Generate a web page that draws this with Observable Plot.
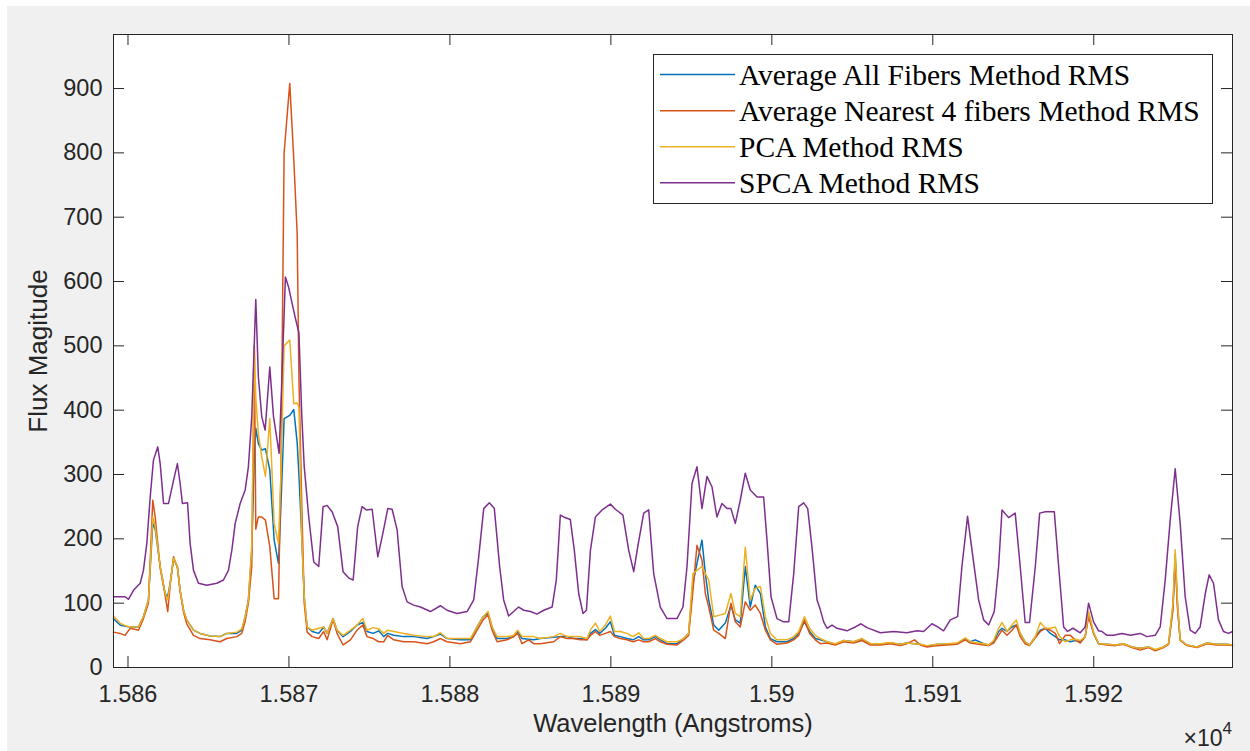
<!DOCTYPE html>
<html><head><meta charset="utf-8">
<script src="https://cdn.jsdelivr.net/npm/d3@7"></script>
<script src="https://cdn.jsdelivr.net/npm/@observablehq/plot@0.6"></script>
<style>
html,body{margin:0;padding:0;background:#fff;}
#wrap{position:relative;width:1250px;height:751px;overflow:hidden;}
#bg{position:absolute;left:7px;top:6px;right:0;bottom:0;background:#f0f0f0;}
#chart{position:absolute;left:0;top:0;}
#overlay{position:absolute;left:0;top:0;}
</style></head><body>
<div id="wrap"><div id="bg"></div><div id="chart"></div><svg id="overlay" width="1250" height="751"></svg></div>
<script>
// ---------- DATA ----------
const seriesNames = ["Average All Fibers Method RMS", "Average Nearest 4 fibers Method RMS", "PCA Method RMS", "SPCA Method RMS"];
const seriesColors = ["#0072BD", "#D95319", "#EDB120", "#7E2F8E"];
const xTicks = [15860, 15870, 15880, 15890, 15900, 15910, 15920];
const xTickLabels = ["1.586", "1.587", "1.588", "1.589", "1.59", "1.591", "1.592"];
const yTicks = [0, 100, 200, 300, 400, 500, 600, 700, 800, 900];
const xLabel = "Wavelength (Angstroms)";
const yLabel = "Flux Magitude";
const xExponent = "4";

// wavelength grid shared by the three lower methods
const wlLow = [
15859.10,15859.51,15859.82,15860.14,15860.65,15860.96,15861.27,15861.54,15861.69,15862.00,
15862.31,15862.47,15862.62,15862.83,15863.07,15863.24,15863.45,15863.65,15864.07,15864.48,
15865.10,15865.72,15866.14,15866.76,15867.07,15867.28,15867.48,15867.69,15867.85,15867.94,
15868.10,15868.31,15868.54,15868.81,15869.08,15869.35,15869.50,15869.70,15870.05,15870.30,
15870.51,15870.62,15870.80,15870.95,15871.13,15871.44,15871.85,15872.16,15872.37,15872.74,
15872.99,15873.36,15873.82,15874.23,15874.59,15874.85,15875.23,15875.58,15875.89,15876.14,
15876.51,15877.13,15877.75,15878.58,15878.99,15879.41,15879.82,15880.65,15881.27,15881.69,
15882.06,15882.37,15882.62,15882.93,15883.55,15883.96,15884.21,15884.48,15884.90,15885.21,
15885.62,15886.45,15886.86,15887.28,15887.69,15888.11,15888.52,15888.73,15889.04,15889.31,
15889.66,15889.97,15890.22,15890.59,15891.00,15891.38,15891.73,15892.04,15892.35,15892.76,
15893.07,15893.49,15894.11,15894.52,15894.83,15895.10,15895.35,15895.66,15895.87,15896.08,
15896.39,15896.70,15897.11,15897.46,15897.73,15898.04,15898.35,15898.66,15898.97,15899.29,
15899.60,15899.91,15900.32,15900.94,15901.36,15901.67,15902.02,15902.35,15902.70,15903.01,
15903.43,15903.94,15904.46,15905.08,15905.60,15906.12,15906.74,15907.36,15907.98,15908.39,
15908.87,15909.22,15909.64,15910.26,15910.88,15911.50,15912.02,15912.33,15912.64,15913.16,
15913.47,15913.78,15914.09,15914.30,15914.61,15914.92,15915.19,15915.43,15915.74,15916.01,
15916.37,15916.68,15916.99,15917.30,15917.61,15917.88,15918.23,15918.54,15918.85,15919.16,
15919.47,15919.68,15919.99,15920.30,15920.82,15921.34,15921.85,15922.37,15922.89,15923.41,
15923.82,15924.34,15924.65,15924.92,15925.06,15925.21,15925.37,15925.79,15926.41,15927.03,
15927.65,15928.27,15928.62];

const avgAll = [
76,66,64,63,63,79,105,224,215,157,
115,110,131,168,157,120,89,74,58,53,
49,48,53,53,58,79,105,182,330,372,
348,338,340,307,198,162,250,387,392,401,
350,300,200,110,63,56,53,63,53,76,
58,48,56,66,70,56,53,57,48,53,
50,48,48,45,48,52,45,43,43,63,
79,84,63,45,45,48,56,45,44,43,
45,47,48,48,45,45,43,53,59,53,
61,71,50,48,45,43,48,43,43,48,
43,37,37,45,53,131,162,198,146,105,
66,58,69,97,74,69,157,94,128,115,
63,45,40,40,45,53,71,56,45,43,
40,36,42,40,44,37,36,38,36,38,
37,36,33,36,36,37,45,40,43,37,
35,40,56,61,56,63,66,53,40,35,
48,58,61,53,48,43,43,40,42,40,
48,84,53,37,36,35,37,32,30,32,
27,32,37,94,175,94,43,35,32,38,
36,36,35];

const avgNear4 = [
55,53,50,61,58,76,100,260,234,155,
112,87,128,172,155,118,86,68,50,45,
43,40,45,48,53,72,100,157,500,215,
234,234,229,188,107,107,300,800,908,790,
675,450,250,100,55,48,45,56,43,74,
53,35,43,58,66,48,45,40,40,50,
43,40,40,37,40,45,40,37,40,58,
74,82,58,40,43,48,53,37,43,37,
37,40,48,45,45,43,43,50,56,50,
53,56,48,45,43,40,43,40,40,45,
40,36,35,43,50,120,190,167,115,94,
58,53,45,100,71,63,102,89,97,84,
58,43,36,38,43,50,74,53,43,37,
38,35,40,38,42,35,35,37,34,37,
43,35,32,34,35,36,43,38,37,35,
34,38,50,58,50,58,66,48,37,34,
46,56,61,58,53,37,50,50,43,38,
48,79,53,37,35,34,36,31,27,31,
26,31,36,90,168,90,42,34,31,37,
35,35,34];

const pca = [
80,69,65,63,63,79,105,234,219,157,
115,105,131,170,157,120,89,74,58,53,
49,48,53,55,60,79,105,190,495,420,
364,327,297,387,224,193,300,500,509,410,
411,405,200,110,63,58,61,63,53,76,
58,50,58,66,76,58,62,60,53,58,
56,53,50,48,48,54,45,45,45,63,
79,87,63,48,48,50,58,48,48,48,
45,48,53,48,48,48,45,58,69,56,
66,80,56,56,53,48,54,45,45,50,
45,40,40,45,53,146,151,157,146,136,
79,81,84,115,84,79,187,105,123,126,
79,53,43,43,48,56,79,61,50,45,
40,37,42,40,45,37,37,39,36,38,
37,36,34,36,37,38,46,40,39,37,
35,42,61,70,56,66,74,53,40,35,
48,70,61,61,63,48,40,43,44,42,
48,87,55,37,36,35,37,32,30,32,
28,32,37,100,183,100,43,35,32,38,
36,36,35];

// SPCA series has its own wavelength sampling
const wlSpca = [
15859.10,15859.82,15860.03,15860.34,15860.76,15860.96,15861.17,15861.38,15861.58,15861.85,
15862.00,15862.21,15862.52,15862.83,15863.07,15863.24,15863.38,15863.70,15863.86,15864.07,
15864.38,15864.90,15865.52,15865.93,15866.24,15866.45,15866.66,15866.97,15867.28,15867.48,
15867.69,15867.94,15868.10,15868.31,15868.52,15868.81,15869.04,15869.39,15869.55,15869.78,
15869.97,15870.38,15870.62,15870.80,15870.95,15871.23,15871.54,15871.85,15872.12,15872.37,
15872.68,15873.03,15873.36,15873.72,15873.99,15874.27,15874.54,15874.81,15875.17,15875.52,
15875.79,15876.14,15876.41,15876.72,15877.03,15877.34,15877.75,15878.17,15878.79,15879.41,
15879.82,15880.44,15881.07,15881.48,15881.79,15882.10,15882.45,15882.76,15883.09,15883.34,
15883.65,15883.96,15884.27,15884.59,15885.00,15885.41,15885.83,15886.35,15886.61,15886.86,
15887.07,15887.48,15887.73,15888.00,15888.27,15888.48,15888.73,15889.04,15889.45,15889.97,
15890.28,15890.75,15891.11,15891.42,15891.67,15892.04,15892.35,15892.66,15893.07,15893.49,
15894.11,15894.48,15894.73,15895.04,15895.35,15895.66,15895.97,15896.28,15896.59,15896.90,
15897.23,15897.46,15897.73,15898.04,15898.35,15898.66,15899.08,15899.49,15899.70,15899.95,
15900.32,15900.73,15901.05,15901.36,15901.67,15901.98,15902.23,15902.49,15902.81,15903.01,
15903.22,15903.43,15903.74,15904.05,15904.67,15905.19,15905.54,15905.91,15906.74,15907.57,
15908.39,15909.02,15909.43,15909.95,15910.30,15910.67,15911.09,15911.54,15911.81,15912.16,
15912.49,15912.85,15913.16,15913.47,15913.82,15914.09,15914.30,15914.71,15915.12,15915.43,
15915.74,15916.01,15916.37,15916.64,15916.99,15917.55,15917.82,15918.13,15918.37,15918.71,
15919.16,15919.47,15919.68,15919.99,15920.30,15920.51,15920.82,15921.23,15921.75,15922.27,
15922.89,15923.30,15923.82,15924.13,15924.44,15924.75,15925.06,15925.37,15925.68,15925.99,
15926.30,15926.61,15926.93,15927.17,15927.44,15927.75,15928.06,15928.37,15928.62];

const spca = [
110,110,106,120,131,151,193,265,322,343,
317,255,255,291,317,286,255,256,193,151,
131,128,131,136,151,182,224,255,276,312,
390,572,452,390,369,467,390,333,441,607,
592,545,520,390,312,234,164,157,250,252,
242,219,149,139,136,219,250,245,246,172,
203,247,246,214,126,102,97,94,87,96,
89,84,87,105,172,247,256,247,157,105,
80,87,94,89,87,83,89,94,136,237,
234,230,182,115,84,89,182,234,245,254,
246,237,182,149,188,240,245,146,94,76,
76,94,157,286,312,247,297,281,234,255,
247,247,224,260,302,276,265,265,198,110,
76,71,71,146,250,256,247,188,105,90,
71,61,66,61,57,63,68,62,54,56,
54,57,56,68,63,57,74,79,157,235,
172,105,74,66,87,157,245,233,240,157,
70,70,157,240,242,242,157,63,56,61,
54,63,100,71,57,56,50,50,53,50,
53,48,50,63,136,229,309,224,110,58,
53,63,115,144,131,74,56,53,56];

// ---------- BUILD ----------
const nLow = Math.min(wlLow.length, avgAll.length, avgNear4.length, pca.length);
const lowRows = d3.range(nLow).map(i => ({wl: wlLow[i], a: avgAll[i], n: avgNear4[i], p: pca[i]}));
const nS = Math.min(wlSpca.length, spca.length);
const spcaRows = d3.range(nS).map(i => ({wl: wlSpca[i], v: spca[i]}));

const W = 1250, H = 751, mL = 113, mR = 18, mT = 34, mB = 84;
const innerW = W - mL - mR, innerH = H - mT - mB;
const axisColor = "#262626";
const tickLen = 11;
const lw = 1.5;
const sans = "'Liberation Sans', Arial, sans-serif";
const labelOf = d => xTickLabels[xTicks.indexOf(d)];

const chart = Plot.plot({
  width: W, height: H,
  marginLeft: mL, marginRight: mR, marginTop: mT, marginBottom: mB,
  style: {background: "transparent", fontFamily: sans, color: axisColor, overflow: "visible"},
  x: {domain: [15859.1, 15928.62], label: null},
  y: {domain: [0, 984], label: null},
  marks: [
    Plot.frame({fill: "white", stroke: "none"}),
    Plot.line(lowRows, {x: "wl", y: "a", stroke: seriesColors[0], strokeWidth: lw}),
    Plot.line(lowRows, {x: "wl", y: "n", stroke: seriesColors[1], strokeWidth: lw}),
    Plot.line(lowRows, {x: "wl", y: "p", stroke: seriesColors[2], strokeWidth: lw}),
    Plot.line(spcaRows, {x: "wl", y: "v", stroke: seriesColors[3], strokeWidth: lw}),
    Plot.frame({stroke: axisColor, strokeWidth: 1}),
    Plot.tickY(yTicks, {y: d => d, insetRight: innerW - tickLen, stroke: axisColor}),
    Plot.tickY(yTicks, {y: d => d, insetLeft: innerW - tickLen, stroke: axisColor}),
    Plot.tickX(xTicks, {x: d => d, insetTop: innerH - tickLen, stroke: axisColor}),
    Plot.tickX(xTicks, {x: d => d, insetBottom: innerH - tickLen, stroke: axisColor}),
    Plot.axisX({ticks: xTicks, tickSize: 0, tickPadding: 18, tickFormat: labelOf, fontSize: 23.5, label: null, fill: axisColor}),
    Plot.axisY({ticks: yTicks, tickSize: 0, tickPadding: 11, fontSize: 23.5, label: null, fill: axisColor}),
    Plot.text([xLabel], {text: d => d, frameAnchor: "bottom", textAnchor: "middle", dy: 64, fontSize: 25.5, fill: axisColor}),
    Plot.text([yLabel], {text: d => d, frameAnchor: "left", textAnchor: "middle", dx: -75, rotate: -90, fontSize: 26, fill: axisColor})
  ]
});
document.getElementById("chart").appendChild(chart);

// ---------- LEGEND & EXPONENT ----------
const ov = d3.select("#overlay");
const lgX = 653.5, lgY = 54.5, lgW = 559, lgH = 149;
ov.append("rect").attr("x", lgX).attr("y", lgY).attr("width", lgW).attr("height", lgH)
  .attr("fill", "white").attr("stroke", axisColor).attr("stroke-width", 1);
const rowY = [74.5, 110.7, 146.7, 182.7];
seriesNames.forEach((name, i) => {
  ov.append("line").attr("x1", 660).attr("x2", 735).attr("y1", rowY[i]).attr("y2", rowY[i])
    .attr("stroke", seriesColors[i]).attr("stroke-width", lw);
  ov.append("text").attr("x", 739).attr("y", rowY[i] + 10.5)
    .attr("font-family", "'Liberation Serif', 'Times New Roman', serif").attr("font-size", 29.5)
    .attr("fill", "#000").text(name);
});
const ex = ov.append("text").attr("x", 1232).attr("y", 746).attr("text-anchor", "end")
  .attr("font-family", sans).attr("font-size", 23).attr("fill", axisColor);
ex.append("tspan").text("\u00d710");
ex.append("tspan").attr("dy", -12).attr("font-size", 17).text(xExponent);
</script>
</body></html>
